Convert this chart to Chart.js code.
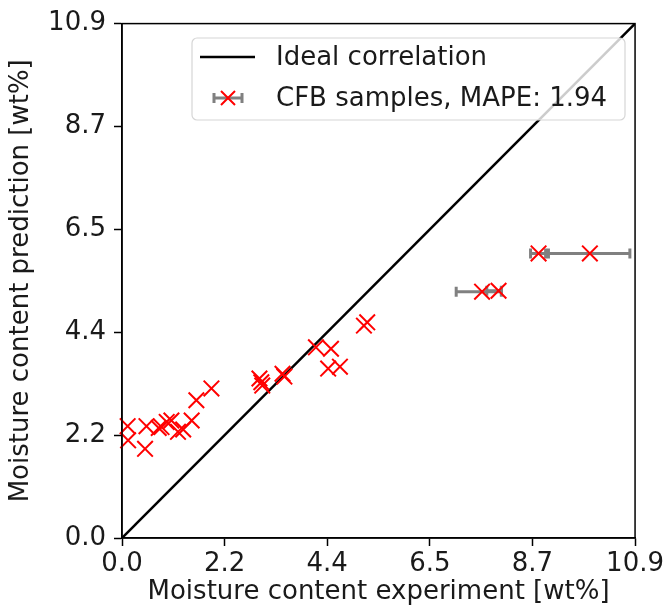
<!DOCTYPE html>
<html>
<head>
<meta charset="utf-8">
<script src="https://cdn.jsdelivr.net/npm/chart.js@4"></script>
<style>
  body { margin: 0; background: #fff; }
  #wrap { width: 667px; height: 608px; }
</style>
</head>
<body>
<div id="wrap"><canvas id="parityChart" width="667" height="608"></canvas></div>
<script>
// Данные: эксперимент (x) и предсказание (y)
const expX  = [0.12, 0.13, 0.49, 0.52, 0.78, 0.84, 0.95, 1.05, 1.19, 1.30, 1.48, 1.58, 1.90,
               2.92, 2.96, 2.98, 3.41, 3.45, 4.12, 4.44, 4.38, 4.63, 5.14, 5.21,
               7.65, 8.00, 8.85, 9.94];
const predY = [2.37, 2.07, 1.89, 2.37, 2.33, 2.35, 2.46, 2.49, 2.25, 2.30, 2.49, 2.92, 3.17,
               3.38, 3.30, 3.23, 3.48, 3.42, 4.04, 4.01, 3.59, 3.63, 4.50, 4.57,
               5.22, 5.24, 6.03, 6.03];
// Горизонтальные погрешности (нижняя/верхняя граница по x), null = нет
const errLow  = [null, null, null, null, null, null, null, null, null, null, null, null, null,
                 null, null, null, null, null, null, null, null, null, null, null,
                 7.10, 7.75, 8.68, 9.06];
const errHigh = [null, null, null, null, null, null, null, null, null, null, null, null, null,
                 null, null, null, null, null, null, null, null, null, null, null,
                 8.06, 8.06, 9.00, 10.79];

const idealLine = [0, 10.9];
const tickValues = [0, 2.18, 4.36, 6.54, 8.72, 10.9];
const tickLabels = ['0.0', '2.2', '4.4', '6.5', '8.7', '10.9'];

const legendLabels = ['Ideal correlation', 'CFB samples, MAPE: 1.94'];
const xTitle = 'Moisture content experiment [wt%]';
const yTitle = 'Moisture content prediction [wt%]';

const FONT = 'DejaVu Sans';
const TXT = '#1a1a1a';

// Погрешности — рисуем под маркерами
const errorBarPlugin = {
  id: 'errorBars',
  beforeDatasetsDraw(chart) {
    const { ctx, scales: { x, y } } = chart;
    ctx.save();
    ctx.strokeStyle = '#808080';
    ctx.lineWidth = 3;
    for (let i = 0; i < expX.length; i++) {
      if (errLow[i] == null) continue;
      const py = y.getPixelForValue(predY[i]);
      const x1 = x.getPixelForValue(errLow[i]);
      const x2 = x.getPixelForValue(errHigh[i]);
      ctx.beginPath();
      ctx.moveTo(x1, py); ctx.lineTo(x2, py);
      ctx.moveTo(x1, py - 5); ctx.lineTo(x1, py + 5);
      ctx.moveTo(x2, py - 5); ctx.lineTo(x2, py + 5);
      ctx.stroke();
    }
    ctx.restore();
  }
};

// Рамка и легенда в стиле matplotlib
const framePlugin = {
  id: 'frameLegend',
  afterDatasetsDraw(chart) {
    const { ctx, chartArea: a } = chart;
    ctx.save();
    ctx.strokeStyle = '#000';
    ctx.lineWidth = 1.5;
    ctx.strokeRect(a.left, a.top, a.right - a.left, a.bottom - a.top);

    // коробка легенды
    const bx = 192, by = 38, bw = 433, bh = 82, r = 5;
    ctx.beginPath();
    ctx.roundRect(bx, by, bw, bh, r);
    ctx.fillStyle = 'rgba(255,255,255,0.8)';
    ctx.fill();
    ctx.strokeStyle = '#d6d6d6';
    ctx.lineWidth = 1.2;
    ctx.stroke();

    // строка 1: линия
    ctx.strokeStyle = '#000';
    ctx.lineWidth = 2.5;
    ctx.beginPath();
    ctx.moveTo(200, 57); ctx.lineTo(255, 57);
    ctx.stroke();

    // строка 2: errorbar + крестик
    ctx.strokeStyle = '#808080';
    ctx.lineWidth = 3;
    ctx.beginPath();
    ctx.moveTo(214, 98); ctx.lineTo(242, 98);
    ctx.moveTo(214, 93); ctx.lineTo(214, 103);
    ctx.moveTo(242, 93); ctx.lineTo(242, 103);
    ctx.stroke();
    ctx.strokeStyle = '#ff0000';
    ctx.lineWidth = 2;
    ctx.beginPath();
    ctx.moveTo(221, 91); ctx.lineTo(235, 105);
    ctx.moveTo(235, 91); ctx.lineTo(221, 105);
    ctx.stroke();

    ctx.fillStyle = TXT;
    ctx.font = '26px "' + FONT + '"';
    ctx.textBaseline = 'middle';
    ctx.textAlign = 'left';
    ctx.fillText(legendLabels[0], 276, 58);
    ctx.fillText(legendLabels[1], 276, 99);
    ctx.restore();
  }
};

const ctx = document.getElementById('parityChart').getContext('2d');
new Chart(ctx, {
  type: 'scatter',
  data: {
    datasets: [
      {
        label: legendLabels[1],
        data: expX.map((v, i) => ({ x: v, y: predY[i] })),
        pointStyle: 'crossRot',
        pointRadius: 11,
        pointHoverRadius: 11,
        borderColor: '#ff0000',
        backgroundColor: '#ff0000',
        borderWidth: 2,
        clip: false
      },
      {
        label: legendLabels[0],
        type: 'line',
        data: idealLine.map(v => ({ x: v, y: v })),
        borderColor: '#000',
        borderWidth: 2.5,
        pointRadius: 0,
        fill: false
      }
    ]
  },
  options: {
    responsive: false,
    animation: false,
    devicePixelRatio: 1,
    layout: { padding: { top: 22, right: 30, left: 0, bottom: 0 } },
    plugins: { legend: { display: false }, tooltip: { enabled: false } },
    scales: {
      x: {
        type: 'linear',
        min: 0, max: 10.9,
        afterBuildTicks: s => { s.ticks = tickValues.map(v => ({ value: v })); },
        afterFit: s => { s.height = 70; },
        grid: { drawOnChartArea: false, color: '#000', tickLength: 8, tickWidth: 1.5 },
        border: { color: '#000', width: 1.5 },
        ticks: {
          callback: (v, i) => tickLabels[i],
          color: TXT, padding: 3, maxRotation: 0, autoSkip: false,
          font: { family: FONT, size: 26 }
        },
        title: {
          display: true, text: xTitle, color: TXT,
          font: { family: FONT, size: 26 }, padding: { top: 0, bottom: 0 }
        }
      },
      y: {
        type: 'linear',
        min: 0, max: 10.9,
        afterBuildTicks: s => { s.ticks = tickValues.map(v => ({ value: v })); },
        afterFit: s => { s.width = 122; },
        grid: { drawOnChartArea: false, color: '#000', tickLength: 8, tickWidth: 1.5 },
        border: { color: '#000', width: 1.5 },
        ticks: {
          callback: (v, i) => tickLabels[i],
          color: TXT, padding: 8, autoSkip: false,
          font: { family: FONT, size: 26 }
        },
        title: {
          display: true, text: yTitle, color: TXT,
          font: { family: FONT, size: 26 }, padding: { top: 6, bottom: 0 }
        }
      }
    }
  },
  plugins: [errorBarPlugin, framePlugin]
});
</script>
</body>
</html>
